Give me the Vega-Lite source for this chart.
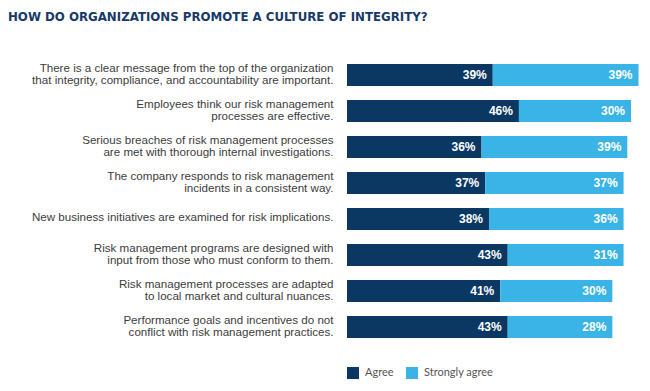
{
  "$schema": "https://vega.github.io/schema/vega-lite/v6.json",
  "autosize": {"type": "none"},
  "padding": {"left": 347, "top": 57, "right": 4, "bottom": 46},
  "width": 299,
  "height": 288,
  "background": "white",
  "title": {
    "text": "HOW DO ORGANIZATIONS PROMOTE A CULTURE OF INTEGRITY?",
    "anchor": "start",
    "frame": "group",
    "dx": -339,
    "offset": 33,
    "font": "DejaVu Sans",
    "fontSize": 11.8,
    "fontWeight": "bold",
    "color": "#173a68"
  },
  "config": {"view": {"stroke": null}},
  "data": {
    "values": [
      {"q": "There is a clear message from the top of the organization|that integrity, compliance, and accountability are important.", "resp": "Agree", "pct": 0.39},
      {"q": "There is a clear message from the top of the organization|that integrity, compliance, and accountability are important.", "resp": "Strongly agree", "pct": 0.39},
      {"q": "Employees think our risk management|processes are effective.", "resp": "Agree", "pct": 0.46},
      {"q": "Employees think our risk management|processes are effective.", "resp": "Strongly agree", "pct": 0.30},
      {"q": "Serious breaches of risk management processes|are met with thorough internal investigations.", "resp": "Agree", "pct": 0.36},
      {"q": "Serious breaches of risk management processes|are met with thorough internal investigations.", "resp": "Strongly agree", "pct": 0.39},
      {"q": "The company responds to risk management|incidents in a consistent way.", "resp": "Agree", "pct": 0.37},
      {"q": "The company responds to risk management|incidents in a consistent way.", "resp": "Strongly agree", "pct": 0.37},
      {"q": "New business initiatives are examined for risk implications.", "resp": "Agree", "pct": 0.38},
      {"q": "New business initiatives are examined for risk implications.", "resp": "Strongly agree", "pct": 0.36},
      {"q": "Risk management programs are designed with|input from those who must conform to them.", "resp": "Agree", "pct": 0.43},
      {"q": "Risk management programs are designed with|input from those who must conform to them.", "resp": "Strongly agree", "pct": 0.31},
      {"q": "Risk management processes are adapted|to local market and cultural nuances.", "resp": "Agree", "pct": 0.41},
      {"q": "Risk management processes are adapted|to local market and cultural nuances.", "resp": "Strongly agree", "pct": 0.30},
      {"q": "Performance goals and incentives do not|conflict with risk management practices.", "resp": "Agree", "pct": 0.43},
      {"q": "Performance goals and incentives do not|conflict with risk management practices.", "resp": "Strongly agree", "pct": 0.28}
    ]
  },
  "transform": [
    {"stack": "pct", "groupby": ["q"], "sort": [{"field": "resp", "order": "ascending"}], "as": ["x0", "x1"]}
  ],
  "encoding": {
    "y": {
      "field": "q",
      "type": "nominal",
      "sort": null,
      "title": null,
      "scale": {"paddingInner": 0.39, "paddingOuter": 0.195},
      "axis": {
        "ticks": false,
        "domain": false,
        "labelPadding": 14,
        "labelExpr": "split(datum.label, '|')",
        "labelFont": "Liberation Sans",
        "labelFontSize": 11.6,
        "labelColor": "#3c3c3c",
        "labelLineHeight": 12,
        "labelLimit": 400,
        "labelOffset": {"condition": {"test": "indexof(datum.label, '|') >= 0", "value": -6}, "value": -1}
      }
    }
  },
  "layer": [
    {
      "mark": {"type": "bar"},
      "encoding": {
        "x": {"field": "x0", "type": "quantitative", "scale": {"domain": [0, 0.8]}, "axis": null},
        "x2": {"field": "x1"},
        "color": {
          "field": "resp",
          "type": "nominal",
          "scale": {"domain": ["Agree", "Strongly agree"], "range": ["#0b3763", "#3ab4e6"]},
          "legend": {
            "title": null,
            "orient": "none",
            "legendX": 0,
            "legendY": 310,
            "direction": "horizontal",
            "symbolType": "square",
            "symbolSize": 144,
            "symbolStrokeWidth": 0,
            "symbolOpacity": 1,
            "labelFont": "Lato",
            "labelFontSize": 11,
            "labelColor": "#555555",
            "labelOffset": 6,
            "columnPadding": 12,
            "padding": 0
          }
        }
      }
    },
    {
      "mark": {"type": "text", "align": "right", "baseline": "middle", "dx": -6, "font": "Liberation Sans", "fontWeight": "bold", "fontSize": 12, "color": "white"},
      "encoding": {
        "x": {"field": "x1", "type": "quantitative"},
        "text": {"field": "pct", "type": "quantitative", "format": ".0%"}
      }
    }
  ]
}
